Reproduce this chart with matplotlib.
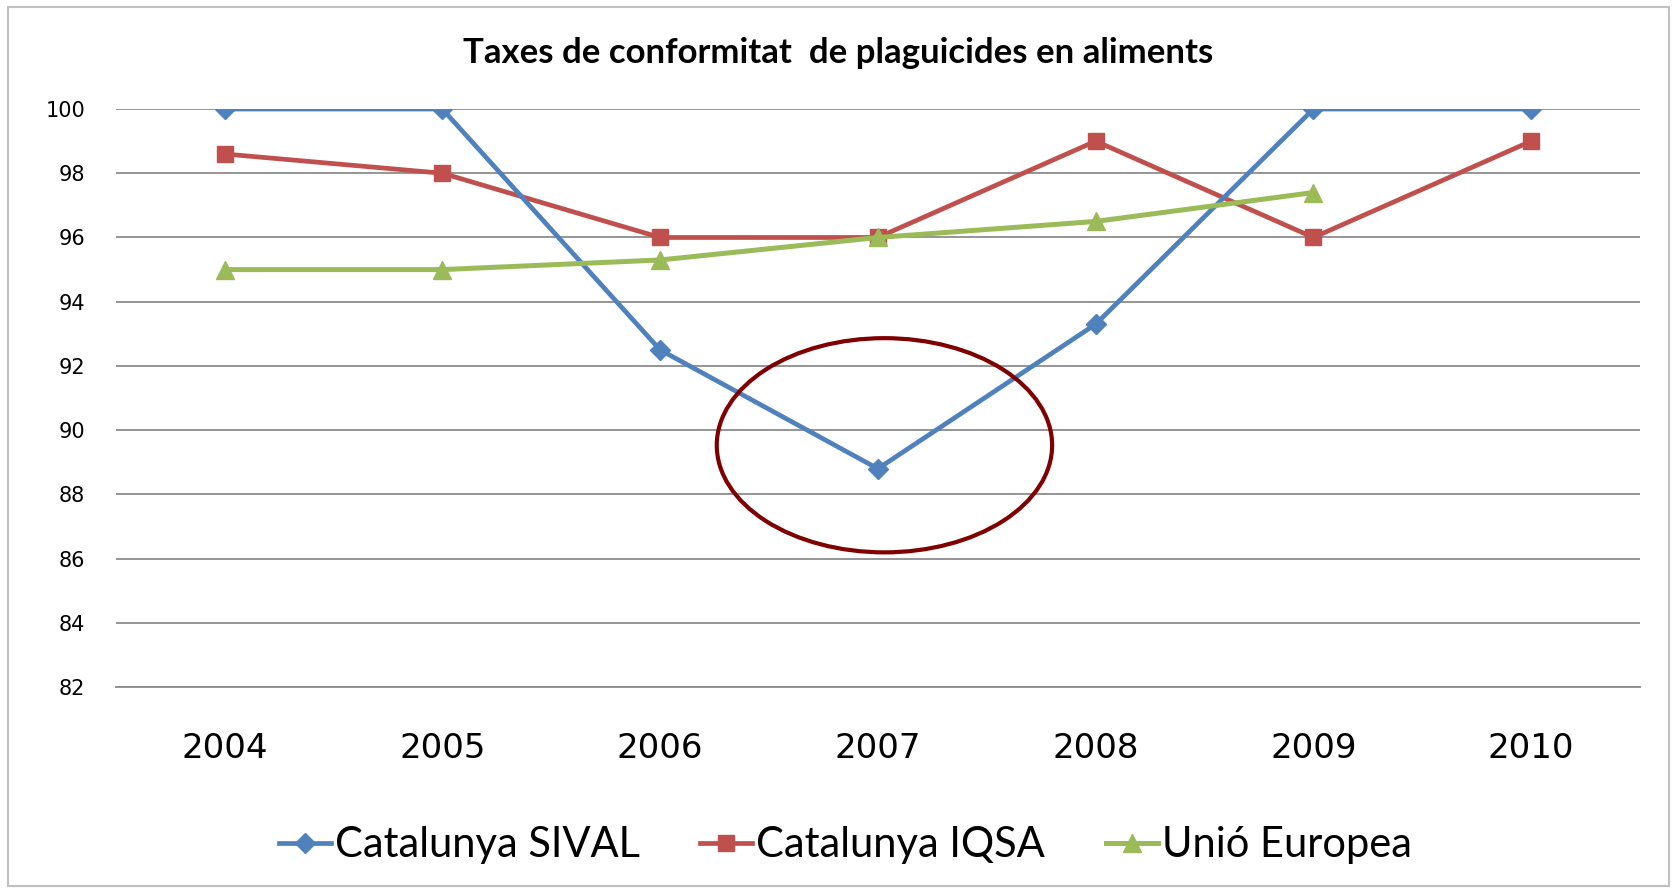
import matplotlib.pyplot as plt
from matplotlib.patches import Ellipse, Rectangle

# Data
years = ['2004', '2005', '2006', '2007', '2008', '2009', '2010']
sival = [100, 100, 92.5, 88.8, 93.3, 100, 100]
iqsa = [98.6, 98, 96, 96, 99, 96, 99]
ue = [95, 95, 95.3, 96, 96.5, 97.4]
y_ticks = [82, 84, 86, 88, 90, 92, 94, 96, 98, 100]

title = 'Taxes de conformitat  de plaguicides en aliments'
names = ['Catalunya SIVAL', 'Catalunya IQSA', 'Unió Europea']

blue, red, green = '#4F81BD', '#C0504D', '#9BBB59'

fig = plt.figure(figsize=(16.77, 8.9), dpi=100)
ax = fig.add_axes([0.069, 0.228, 0.909, 0.6495])

# light frame around the whole chart
fig.patches.append(Rectangle((0.005, 0.005), 0.99, 0.987, transform=fig.transFigure,
                             fill=False, edgecolor='#BFBFBF', linewidth=1.5))

x = list(range(len(years)))
ax.plot(x, sival, color=blue, lw=3.4, marker='D', ms=10.5, label=names[0], zorder=4)
ax.plot(x, iqsa, color=red, lw=3.4, marker='s', ms=12, label=names[1], zorder=3)
ax.plot(x[:len(ue)], ue, color=green, lw=3.6, marker='^', ms=13, label=names[2], zorder=5)

ax.add_patch(Ellipse((3.03, 89.53), 1.54, 6.67, fill=False, edgecolor='#7F0000',
                     linewidth=3, zorder=6))

ax.set_xlim(-0.5, len(years) - 0.5)
ax.set_ylim(82, 100)
ax.set_yticks(y_ticks)
ax.set_xticks(x)
ax.set_xticklabels(years)
ax.grid(axis='y', color='#8C8C8C', linewidth=1.3)
ax.set_axisbelow(True)
for s in ['top', 'right', 'left']:
    ax.spines[s].set_visible(False)
ax.spines['bottom'].set_color('#8C8C8C')
ax.spines['bottom'].set_linewidth(1.3)
ax.tick_params(axis='y', length=0, pad=22, labelsize=15)
ax.tick_params(axis='x', length=0, pad=32, labelsize=24.5)

fig.text(0.5, 0.941, title, ha='center', va='center', fontsize=25,
         fontweight='bold', family='Lato')

fig.legend(loc='center', bbox_to_anchor=(0.504, 0.05), ncol=3, frameon=False,
           prop={'family': 'Lato', 'size': 30}, handlelength=1.25, handletextpad=0.1,
           columnspacing=1.45)

fig.savefig('out.png', dpi=100)
